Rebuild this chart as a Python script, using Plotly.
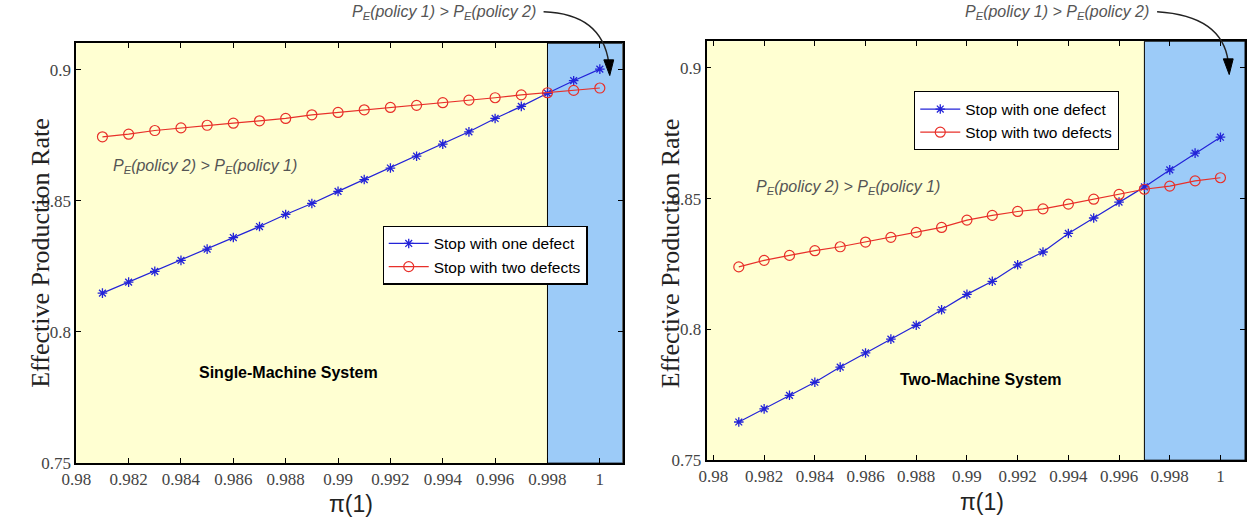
import plotly.graph_objects as go

W, H = 1248, 532

pi1 = [0.981, 0.982, 0.983, 0.984, 0.985, 0.986, 0.987, 0.988, 0.989, 0.990,
       0.991, 0.992, 0.993, 0.994, 0.995, 0.996, 0.997, 0.998, 0.999, 1.000]

single_one = [0.8148, 0.8190, 0.8231, 0.8273, 0.8316, 0.8360, 0.8402, 0.8448, 0.8490, 0.8536,
              0.8581, 0.8625, 0.8670, 0.8716, 0.8763, 0.8814, 0.8860, 0.8910, 0.8958, 0.9002]
single_two = [0.8744, 0.8754, 0.8768, 0.8778, 0.8788, 0.8796, 0.8805, 0.8814, 0.8828, 0.8837,
              0.8847, 0.8856, 0.8864, 0.8874, 0.8884, 0.8893, 0.8904, 0.8912, 0.8921, 0.8930]

two_one = [0.7646, 0.7696, 0.7748, 0.7798, 0.7856, 0.7910, 0.7963, 0.8016, 0.8075, 0.8134,
           0.8184, 0.8247, 0.8296, 0.8367, 0.8426, 0.8487, 0.8545, 0.8610, 0.8674, 0.8735]
two_two = [0.8239, 0.8264, 0.8283, 0.8301, 0.8316, 0.8334, 0.8352, 0.8371, 0.8390, 0.8418,
           0.8436, 0.8451, 0.8461, 0.8479, 0.8498, 0.8516, 0.8536, 0.8548, 0.8568, 0.8580]

x_ticks = [0.98, 0.982, 0.984, 0.986, 0.988, 0.99, 0.992, 0.994, 0.996, 0.998, 1.0]
x_tick_labels = ["0.98", "0.982", "0.984", "0.986", "0.988", "0.99", "0.992", "0.994", "0.996", "0.998", "1"]
y_ticks = [0.75, 0.8, 0.85, 0.9]
y_tick_labels = ["0.75", "0.8", "0.85", "0.9"]

single_threshold = 0.998
two_threshold = 0.997

series_names = ["Stop with one defect", "Stop with two defects"]

BLUE = "#2323d8"
RED = "#e8302a"
YELLOW = "#ffffd2"
LIGHTBLUE = "#9ccbf8"
SERIF = "Liberation Serif"
SANS = "Liberation Sans"


def px(x):
    return x / W


def py(y):
    return 1 - y / H


fig = go.Figure()


def add_pair(xa, ya, y1, y2, legend):
    fig.add_trace(go.Scatter(
        x=pi1, y=y1, xaxis=xa, yaxis=ya, name=series_names[0], legend=legend,
        mode="lines+markers", line=dict(color=BLUE, width=1.2),
        marker=dict(symbol="asterisk-open", size=8, color=BLUE, line=dict(color=BLUE, width=1.3))))
    fig.add_trace(go.Scatter(
        x=pi1, y=y2, xaxis=xa, yaxis=ya, name=series_names[1], legend=legend,
        mode="lines+markers", line=dict(color=RED, width=1.2),
        marker=dict(symbol="circle-open", size=10, color=RED, line=dict(color=RED, width=1.2))))


add_pair("x", "y", single_one, single_two, "legend")
add_pair("x2", "y2", two_one, two_two, "legend2")

legend_style = dict(xanchor="left", yanchor="top",
                    bgcolor="white", bordercolor="black", borderwidth=1.2,
                    font=dict(family=SANS, size=15.5, color="black"),
                    tracegroupgap=0, itemwidth=40)

fig.update_layout(
    width=W, height=H,
    margin=dict(l=0, r=0, t=0, b=0),
    paper_bgcolor="white",
    plot_bgcolor=YELLOW,
    font=dict(family=SERIF, size=17, color="#444444"),
    xaxis=dict(domain=[px(62), px(615)], range=[0.98, 1.00087], anchor="y",
               tickvals=x_ticks, ticktext=x_tick_labels),
    yaxis=dict(domain=[py(472), py(44)], range=[0.75, 0.9101], anchor="x",
               tickvals=y_ticks, ticktext=y_tick_labels),
    xaxis2=dict(domain=[px(700), px(1245)], range=[0.97973, 1.00097], anchor="y2",
                tickvals=x_ticks, ticktext=x_tick_labels),
    yaxis2=dict(domain=[py(469), py(42)], range=[0.75, 0.9102], anchor="x2",
                tickvals=y_ticks, ticktext=y_tick_labels),
    legend=dict(x=px(372), y=py(230), **legend_style),
    legend2=dict(x=px(910), y=py(93), **legend_style),
    showlegend=True,
)

axis_style = dict(
    showgrid=False, zeroline=False, showline=True, linecolor="black", linewidth=1.8,
    mirror="allticks", ticks="inside", ticklen=5, tickcolor="black",
    tickfont_family=SERIF, tickfont_size=17, tickfont_color="#444444",
)
fig.update_xaxes(**axis_style)
fig.update_yaxes(**axis_style)

shapes = [
    dict(type="rect", xref="x", yref="y domain", x0=single_threshold, x1=1.00087, y0=0, y1=1,
         fillcolor=LIGHTBLUE, line=dict(color="black", width=1), layer="below"),
    dict(type="rect", xref="x2", yref="y2 domain", x0=two_threshold, x1=1.00097, y0=0, y1=1,
         fillcolor=LIGHTBLUE, line=dict(color="black", width=1), layer="below"),
]


def curve_arrow(sx, sy, cx, cy, ex, ey, tipy):
    shapes.append(dict(type="path", xref="paper", yref="paper",
                       path=f"M {px(sx)},{py(sy)} Q {px(cx)},{py(cy)} {px(ex)},{py(ey)}",
                       line=dict(color="#222222", width=1.4), layer="above"))
    shapes.append(dict(type="path", xref="paper", yref="paper",
                       path=(f"M {px(ex-5)},{py(ey-3)} L {px(ex+5)},{py(ey-3)} "
                             f"L {px(ex+1)},{py(tipy)} Z"),
                       fillcolor="black", line=dict(color="black", width=1), layer="above"))


curve_arrow(535, 12, 594, 14, 601, 64, 77)
curve_arrow(1156, 12, 1222, 16, 1228, 63, 76)

fig.update_layout(shapes=shapes)

gray_it = dict(family=SANS, size=16, color="#555555")
annotations = [
    dict(text="<i>P<sub>E</sub>(policy 1) &gt; P<sub>E</sub>(policy 2)</i>", x=px(529), y=py(13),
         xanchor="right", yanchor="middle", font=gray_it),
    dict(text="<i>P<sub>E</sub>(policy 1) &gt; P<sub>E</sub>(policy 2)</i>", x=px(1150), y=py(13),
         xanchor="right", yanchor="middle", font=gray_it),
    dict(text="<i>P<sub>E</sub>(policy 2) &gt; P<sub>E</sub>(policy 1)</i>", x=px(97), y=py(170),
         xanchor="left", yanchor="middle", font=gray_it),
    dict(text="<i>P<sub>E</sub>(policy 2) &gt; P<sub>E</sub>(policy 1)</i>", x=px(748), y=py(191),
         xanchor="left", yanchor="middle", font=gray_it),
    dict(text="<b>Single-Machine System</b>", x=px(277), y=py(380), xanchor="center", yanchor="middle",
         font=dict(family=SANS, size=16, color="black")),
    dict(text="<b>Two-Machine System</b>", x=px(978), y=py(387), xanchor="center", yanchor="middle",
         font=dict(family=SANS, size=16, color="black")),
    dict(text="Effective Production Rate", x=px(25), y=py(258), textangle=-90,
         xanchor="center", yanchor="middle",
         font=dict(family=SERIF, size=26, color="#222222")),
    dict(text="Effective Production Rate", x=px(663), y=py(258), textangle=-90,
         xanchor="center", yanchor="middle",
         font=dict(family=SERIF, size=26, color="#222222")),
    dict(text="\u03c0(1)", x=px(340), y=py(514), xanchor="center", yanchor="middle",
         font=dict(family=SANS, size=23, color="#222222")),
    dict(text="\u03c0(1)", x=px(979), y=py(512), xanchor="center", yanchor="middle",
         font=dict(family=SANS, size=23, color="#222222")),
]
for a in annotations:
    a.update(xref="paper", yref="paper", showarrow=False)
fig.update_layout(annotations=annotations)

fig.write_html("out.html")
